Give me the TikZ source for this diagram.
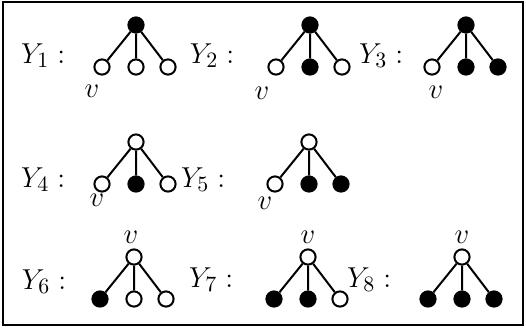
\documentclass[tikz,border=0pt]{standalone}
\usepackage{amsmath}
\usepackage{tikz}
\usetikzlibrary{positioning}

\begin{document}
\begin{tikzpicture}[x=0.5pt,y=-0.5pt,line width=1pt,
  vtx/.style={circle,draw,line width=1pt,minimum size=7.6pt,inner sep=0pt},
  wht/.style={vtx,fill=white},
  blk/.style={vtx,fill=black},
  lbl/.style={anchor=base west,inner sep=0pt,font=\fontsize{15.5}{18}\selectfont},
  vlbl/.style={inner sep=0pt,font=\fontsize{15.5}{18}\selectfont}]
\useasboundingbox (0,0) rectangle (526,329);
\draw (3,2) rectangle (523,325);
% the eight trees Y_1 ... Y_8
\foreach \i/\x/\y/\r/\p/\q/\s in %
{1/136/25/blk/wht/wht/wht,2/310/25/blk/wht/blk/wht,3/466/25/blk/wht/blk/blk,
 4/136/142/wht/wht/blk/wht,5/309/142/wht/wht/blk/blk,
 6/134/257/wht/blk/wht/wht,7/308/257/wht/blk/blk/wht,8/462/257/wht/blk/blk/blk} {
   \draw (\x,\y) coordinate (top\i);
   \node[\p] (a\i) at (\x-34,\y+42) {};
   \node[\q] (b\i) at (\x,\y+42) {};
   \node[\s] (c\i) at (\x+32,\y+42) {};
   \node[\r] (r\i) at (top\i) {};
   \draw (r\i) -- (a\i) (r\i) -- (b\i) (r\i) -- (c\i);
}
% labels
\foreach \i/\x/\y in %
{1/20/63,2/189/63,3/358/63,4/20/187,5/180/187,6/21/289,7/188/287,8/346/287} {
   \node[lbl] (y\i) at (\x,\y) {$Y_{\i}:$};
}
\foreach \i/\x/\y in %
{1/92/91,2/262/93,3/436/92,4/97/200,5/265/203,6/131/237,7/308/237,8/462/237} {
   \node[vlbl] (v\i) at (\x,\y) {$v$};
}
\end{tikzpicture}
\end{document}
